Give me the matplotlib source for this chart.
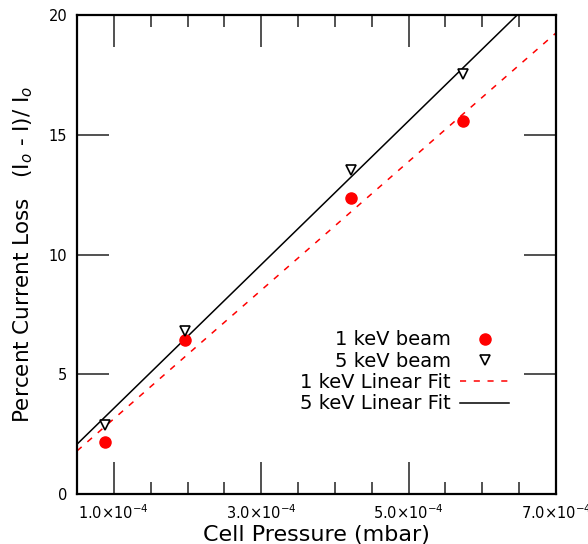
import numpy as np
import matplotlib
matplotlib.use('Agg')
from matplotlib import pyplot as plt
from matplotlib.ticker import MultipleLocator, FuncFormatter

# cell pressure (mbar) and percent current loss
pressure = [0.88e-4, 1.97e-4, 4.22e-4, 5.74e-4]
loss_1kev = [2.17, 6.43, 12.36, 15.57]
loss_5kev = [2.90, 6.80, 13.53, 17.54]

# linear fits (slope per mbar, intercept in %)
fit_1kev = (2.685e4, 0.457)
fit_5kev = (3.0e4, 0.58)

fig = plt.figure(figsize=(5.88, 5.44), dpi=100)
ax = fig.add_axes([0.131, 0.0919, 0.8146, 0.8805])

ax.plot(pressure, loss_1kev, 'o', color='#ff0000', ms=8, mec='#ff0000',
        label='1 keV beam', zorder=3)
ax.plot(pressure, loss_5kev, 'v', color='black', mfc='white', ms=7, mew=1.2,
        label='5 keV beam', zorder=3)

xfit = np.array([0.5e-4, 7e-4])
ax.plot(xfit, fit_1kev[0] * xfit + fit_1kev[1], '--', color='#ff0000', lw=1.1,
        dashes=(4, 5), label='1 keV Linear Fit')
ax.plot(xfit, fit_5kev[0] * xfit + fit_5kev[1], '-', color='black', lw=1.1,
        label='5 keV Linear Fit')

ax.set_xlim(0.5e-4, 7e-4)
ax.set_ylim(0, 20)

ax.set_xticks([1e-4, 3e-4, 5e-4, 7e-4])
ax.xaxis.set_minor_locator(MultipleLocator(0.5e-4))
ax.xaxis.set_major_formatter(FuncFormatter(lambda v, p: '%.1f×10$^{-4}$' % (v * 1e4)))
ax.yaxis.set_major_locator(MultipleLocator(5))

ax.tick_params(which='both', direction='in', top=True, right=True,
               labelsize=10.5, width=1.1, color='#222222')
ax.tick_params(which='major', length=23, pad=7)
ax.tick_params(which='minor', length=8.5)
for s in ax.spines.values():
    s.set_linewidth(1.6)

ax.set_xlabel('Cell Pressure (mbar)', fontsize=16, labelpad=2)
ax.set_ylabel('Percent Current Loss   (I$_o$ - I)/ I$_o$', fontsize=15.5, labelpad=10)

leg = ax.legend(loc='lower right', bbox_to_anchor=(0.93, 0.14), frameon=False,
                markerfirst=False, fontsize=14, handlelength=2.5,
                labelspacing=0.12, borderpad=0.2, handletextpad=0.5)
for t in leg.get_texts():
    t.set_ha('right')
leg._legend_box.align = 'right'

fig.savefig('out.png', dpi=100)
